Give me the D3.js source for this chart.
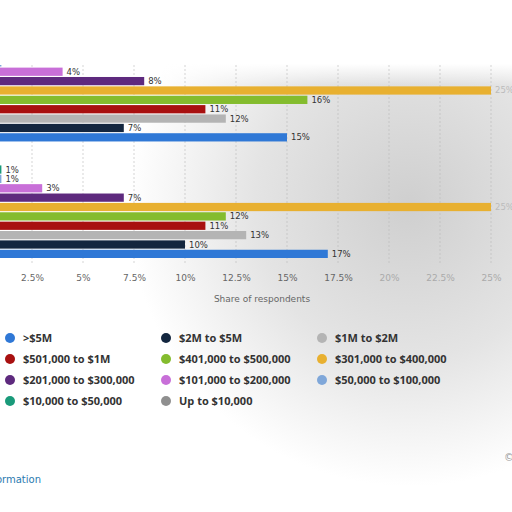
<!DOCTYPE html>
<html><head><meta charset="utf-8">
<script src="https://cdn.jsdelivr.net/npm/d3@7"></script>
<style>body{margin:0;background:#fff}svg{display:block}</style>
</head><body>
<svg id="c" width="512" height="512"></svg>
<script>
const groups = ["Group 1", "Group 2"];
const series = ["Up to $10,000","$10,000 to $50,000","$50,000 to $100,000","$101,000 to $200,000","$201,000 to $300,000","$301,000 to $400,000","$401,000 to $500,000","$501,000 to $1M","$1M to $2M","$2M to $5M",">$5M"];
const colors = ["#8f8f8f","#1a9a7a","#7fa7d9","#c86fd8","#5e2a7e","#e8b030","#84bc2e","#a81010","#b4b4b4","#13263f","#2f78d6"];
const group1Values = [1, 1, 1, 4, 8, 25, 16, 11, 12, 7, 15];
const group2Values = [0, 1, 1, 3, 7, 25, 12, 11, 13, 10, 17];
const tickValues = [2.5, 5, 7.5, 10, 12.5, 15, 17.5, 20, 22.5, 25];
const legendOrder = [">$5M","$2M to $5M","$1M to $2M","$501,000 to $1M","$401,000 to $500,000","$301,000 to $400,000","$201,000 to $300,000","$101,000 to $200,000","$50,000 to $100,000","$10,000 to $50,000","Up to $10,000"];

const svg = d3.select("#c");
const defs = svg.append("defs");
const g1 = defs.append("radialGradient").attr("id","bg").attr("cx","0.8").attr("cy","0.4").attr("r","0.55");
g1.append("stop").attr("offset","0").attr("stop-color","#cfcfcf");
g1.append("stop").attr("offset","0.55").attr("stop-color","#e4e4e4");
g1.append("stop").attr("offset","1").attr("stop-color","#ffffff");
const g2 = defs.append("linearGradient").attr("id","top").attr("x1",0).attr("y1",0).attr("x2",0).attr("y2",1);
g2.append("stop").attr("offset","0.75").attr("stop-color","#fff").attr("stop-opacity",1);
g2.append("stop").attr("offset","1").attr("stop-color","#fff").attr("stop-opacity",0);
svg.append("rect").attr("width",512).attr("height",512).attr("fill","url(#bg)");
svg.append("rect").attr("width",512).attr("height",85).attr("fill","url(#top)");
defs.append("clipPath").attr("id","clip").append("rect").attr("x",0).attr("y",65).attr("width",512).attr("height",260);

const x = d3.scaleLinear().domain([0,25]).range([-19,491]);
const y0 = d3.scaleBand().domain(groups).range([39.5,258]).paddingInner(0.125);
const y1 = d3.scaleBand().domain(series).range([0,y0.bandwidth()]).paddingInner(0.12);

const chart = svg.append("g").attr("clip-path","url(#clip)");
chart.selectAll("line.grid").data(tickValues).join("line")
  .attr("x1",d=>x(d)).attr("x2",d=>x(d)).attr("y1",65).attr("y2",265)
  .attr("stroke","#bbb").attr("stroke-dasharray","2,2").attr("stroke-width",0.6);

const data = [group1Values, group2Values];
groups.forEach((gname,gi)=>{
  const gg = chart.append("g").attr("transform",`translate(0,${y0(gname)})`);
  gg.selectAll("rect").data(series).join("rect")
    .attr("x",x(0)).attr("y",d=>y1(d)).attr("height",y1.bandwidth())
    .attr("width",(d,i)=>x(data[gi][i])-x(0)).attr("fill",(d,i)=>colors[i]);
  gg.selectAll("text").data(series.filter((d,i)=>data[gi][i]>0)).join("text")
    .attr("x",d=>x(data[gi][series.indexOf(d)])+4).attr("y",d=>y1(d)+y1.bandwidth()/2+3)
    .attr("font-family","Verdana, DejaVu Sans, sans-serif").attr("font-size",8.5)
    .attr("fill",d=>x(data[gi][series.indexOf(d)])>460?"#bbb":"#333")
    .text(d=>data[gi][series.indexOf(d)]+"%");
});

const axis = d3.axisBottom(x).tickValues(tickValues).tickSize(0).tickFormat(d=>d+"%");
const ax = svg.append("g").attr("transform","translate(0,272)").call(axis);
ax.select(".domain").remove();
ax.selectAll("text").attr("font-family","Verdana, DejaVu Sans, sans-serif").attr("font-size",9)
  .attr("fill",d=>d>=20?"#aaa":"#666");
svg.append("text").attr("x",262).attr("y",302).attr("text-anchor","middle")
  .attr("font-family","Verdana, DejaVu Sans, sans-serif").attr("font-size",9).attr("fill","#666")
  .text("Share of respondents");

const lg = svg.append("g");
legendOrder.forEach((name,i)=>{
  const col=i%3,row=Math.floor(i/3);
  const cx=10+col*156, cy=338+row*21;
  lg.append("circle").attr("cx",cx).attr("cy",cy).attr("r",5).attr("fill",colors[series.indexOf(name)]);
  lg.append("text").attr("x",cx+13).attr("y",cy+4).attr("font-family","'Open Sans', sans-serif")
    .attr("font-size",11).attr("font-weight","bold").attr("fill","#333").text(name);
});
svg.append("text").attr("x",41).attr("y",483).attr("text-anchor","end")
  .attr("font-family","Verdana, DejaVu Sans, sans-serif").attr("font-size",10).attr("fill","#2a7ab0")
  .text("Additional Information");
svg.append("text").attr("x",504).attr("y",461).attr("font-family","Verdana, DejaVu Sans, sans-serif")
  .attr("font-size",10).attr("fill","#999").text("©");
</script></body></html>
